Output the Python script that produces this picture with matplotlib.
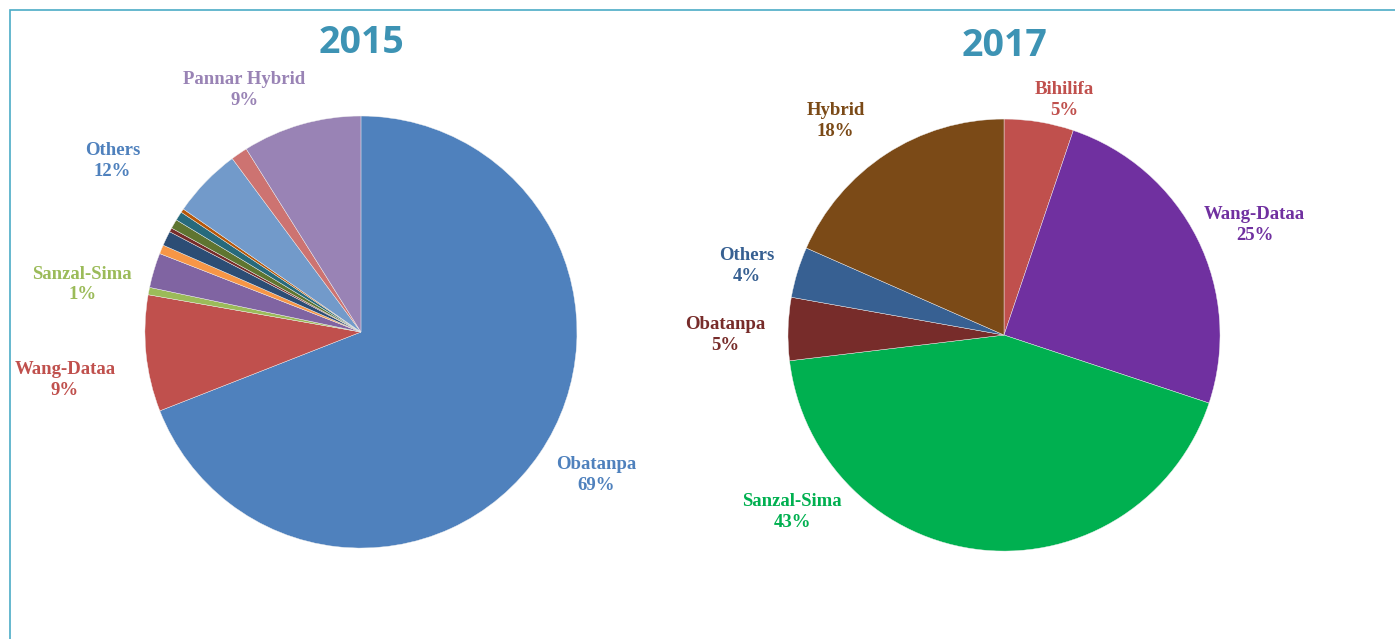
import matplotlib.pyplot as plt
from matplotlib.patches import Rectangle

# 2015 shares (%) read clockwise from 12 o'clock
vals_2015 = [69.0, 8.7, 0.55, 2.6, 0.67, 1.1, 0.3, 0.7, 0.67, 0.28, 5.2, 1.25, 8.9]
cols_2015 = ['#4F81BD', '#C0504D', '#9BBB59', '#8064A2', '#F79646', '#2C4D75',
             '#772C2A', '#5F7530', '#276A7C', '#B65708', '#729ACA', '#CD7371', '#9983B5']
# labelled groups: (text, slice indices, label position in pie units, colour)
labels_2015 = [('Obatanpa', [0], (1.09, -0.66), '#4F81BD'),
               ('Wang-Dataa', [1], (-1.37, -0.22), '#C0504D'),
               ('Sanzal-Sima', [2], (-1.29, 0.22), '#9BBB59'),
               ('Others', [3, 4, 5, 6, 7, 8, 9, 10], (-1.15, 0.79), '#4F81BD'),
               ('Pannar Hybrid', [12], (-0.54, 1.12), '#9983B5')]

# 2017 shares (%)
names_2017 = ['Bihilifa', 'Wang-Dataa', 'Sanzal-Sima', 'Obatanpa', 'Others', 'Hybrid']
vals_2017 = [5.2, 24.9, 43.0, 4.7, 3.8, 18.4]
cols_2017 = ['#C0504D', '#7030A0', '#00B050', '#772C2A', '#376092', '#7B4A17']
pos_2017 = [(0.28, 1.09), (1.16, 0.51), (-0.98, -0.82), (-1.29, 0.0), (-1.19, 0.32), (-0.78, 0.99)]

title_col = '#3D93B4'
lab_font = dict(family='Liberation Serif', fontweight='bold', fontsize=13.5,
                ha='center', va='center', linespacing=1.3)

fig = plt.figure(figsize=(13.95, 6.39), dpi=100)
fig.patch.set_facecolor('white')

def draw_pie(ax, vals, cols, xlim, ylim, title):
    ax.pie(vals, colors=cols, startangle=90, counterclock=False,
           wedgeprops=dict(edgecolor='#f0f0f0', linewidth=0.3))
    ax.set_xlim(xlim)
    ax.set_ylim(ylim)
    ax.axis('off')
    ax.text(0, 1.34, title, ha='center', va='center', fontsize=27,
            fontweight='bold', family='Open Sans', color=title_col)

# pie radius = 216 px, centres at (361, 332) and (1004, 335)
ax1 = fig.add_axes([0, 0, 0.5, 1])
draw_pie(ax1, vals_2015, cols_2015, (-1.671, 1.558), (-1.421, 1.537), '2015')
for name, idx, (x, y), c in labels_2015:
    pct = round(sum(vals_2015[i] for i in idx))
    ax1.text(x, y, '%s\n%d%%' % (name, pct), color=c, **lab_font)

ax2 = fig.add_axes([0.5, 0, 0.5, 1])
draw_pie(ax2, vals_2017, cols_2017, (-1.419, 1.810), (-1.407, 1.551), '2017')
for name, v, (x, y), c in zip(names_2017, vals_2017, pos_2017, cols_2017):
    ax2.text(x, y, '%s\n%d%%' % (name, round(v)), color=c, **lab_font)

# thin frame around the chart area
fig.add_artist(Rectangle((10 / 1395, -0.1), 1.2, 1 - 10 / 639 + 0.1,
                         transform=fig.transFigure, fill=False,
                         edgecolor='#4BACC6', linewidth=1.2))

fig.savefig('out.png', dpi=100)
